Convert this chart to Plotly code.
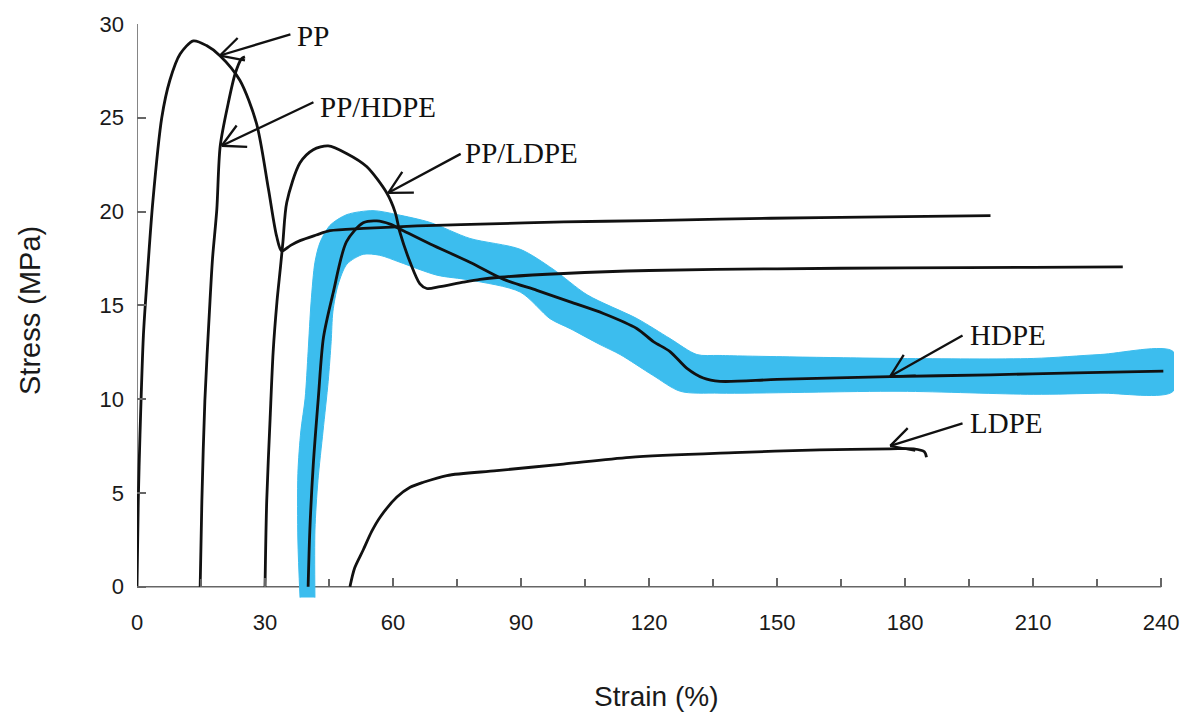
import math
import plotly.graph_objects as go

# ---------------- data (strain %, stress MPa) ----------------
pp_strain = [0, 0.3, 0.7, 1.5, 2.3, 3.7, 5.8, 7.7, 10.1, 13.2, 16.3, 19.5, 24.1, 28.0, 30.8, 32.7, 33.9,
             36.0, 38.2, 42.0, 45.2, 53.0, 60.9, 70.0, 80.4, 100, 120, 136.6, 160, 180, 200]
pp_stress = [0, 4.6, 8.1, 13.4, 16.2, 20.5, 25.0, 27.0, 28.4, 29.1, 28.85, 28.3, 27.0, 24.7, 21.2, 18.7, 17.9,
             18.2, 18.45, 18.75, 18.98, 19.1, 19.19, 19.27, 19.33, 19.45, 19.52, 19.6, 19.68, 19.73, 19.78]

pphdpe_strain = [14.8, 15.2, 15.9, 17.1, 17.7, 18.7, 19.5, 21.4, 23.0, 24.5, 25.3]
pphdpe_stress = [0, 4.6, 9.9, 15.2, 17.5, 20.1, 23.5, 25.8, 27.35, 28.15, 28.25]

ppldpe_strain = [30.0, 30.4, 31.2, 31.9, 32.8, 33.6, 34.2, 35.1, 38.2, 41.3, 44.8, 49.1, 53.8, 58.5,
                 60.5, 61.6, 64.0, 66.3, 67.9, 71.0, 76.5, 80.4, 85, 100, 120, 150, 180, 210, 231]
ppldpe_stress = [0, 4.6, 9.0, 12.5, 15.2, 17.0, 18.4, 20.5, 22.6, 23.3, 23.5, 23.1, 22.4, 21.0,
                 19.96, 18.9, 17.3, 16.15, 15.9, 16.0, 16.24, 16.39, 16.5, 16.7, 16.86, 16.95, 17.0, 17.03, 17.05]

hdpe_strain = [40.1, 40.5, 41.3, 42.5, 43.7, 46.0, 49.1, 53.0, 56.2, 59.3, 62.4, 68.7, 78.0, 85.8, 93.7,
               101.5, 109.3, 117.1, 121.0, 124.9, 128.8, 132.7, 136.6, 150, 176.5, 200, 220, 240.5]
hdpe_stress = [0, 3.0, 6.5, 10.1, 13.3, 15.7, 18.4, 19.4, 19.5, 19.33, 18.98, 18.27, 17.3, 16.4, 15.8,
               15.19, 14.57, 13.77, 13.07, 12.54, 11.66, 11.13, 10.95, 11.05, 11.2, 11.3, 11.4, 11.5]

ldpe_strain = [49.9, 51.0, 53.0, 55.0, 57.0, 60.9, 64.0, 67.1, 72.6, 84.3, 99.9, 115.5, 140, 160, 176.5, 182, 184.5, 185]
ldpe_stress = [0, 1.0, 1.96, 2.95, 3.72, 4.78, 5.3, 5.57, 5.93, 6.19, 6.54, 6.9, 7.15, 7.3, 7.35, 7.35, 7.2, 6.9]

# highlighted band around the HDPE curve (outline, outer edge then inner edge)
band_strain = [38.2, 37.7, 37.7, 38.4, 39.4, 40.1, 40.8, 41.7, 42.9, 45.2, 49.2, 55.3, 60.9, 68.7, 78.0,
               89.8, 97.5, 105.5, 117.2, 124.9, 131.2, 136.6, 178.8, 210.0, 225.7, 242.8,
               242.8, 225.7, 210.0, 178.8, 136.6, 127.3, 120.9, 113.2, 108.5, 101.5, 96.8, 89.8, 78.0,
               70.3, 61.6, 56.9, 53.0, 49.2, 47.1, 45.9, 45.5, 44.8, 43.6, 42.4, 41.7, 41.7]
band_stress = [-0.58, 2.49, 6.03, 8.31, 10.05, 12.54, 15.19, 17.30, 18.36, 19.26, 19.84, 20.05, 19.84, 19.42, 18.57,
               17.99, 16.93, 15.56, 14.29, 13.23, 12.38, 12.33, 12.17, 12.17, 12.38, 12.54,
               10.42, 10.32, 10.26, 10.42, 10.32, 10.42, 11.27, 12.38, 12.91, 13.76, 14.29, 15.71, 16.35,
               16.61, 17.30, 17.67, 17.72, 17.20, 16.08, 14.66, 13.07, 10.95, 8.31, 5.66, 3.02, -0.58]

# labels: (text, label anchor x, label y, arrow tip x, arrow tip y, arrow tail x, arrow tail y)
label_names = ["PP", "PP/HDPE", "PP/LDPE", "HDPE", "LDPE"]
label_x = [37.0, 42.4, 76.4, 194.7, 194.7]
label_y = [29.37, 25.6, 23.1, 13.44, 8.73]
tip_x = [19.45, 19.85, 58.9, 176.5, 176.5]
tip_y = [28.32, 23.51, 21.0, 11.22, 7.51]
tail_x = [36.3, 41.7, 76.2, 193.8, 193.8]
tail_y = [29.47, 25.87, 23.12, 13.44, 8.73]

x_ticks = list(range(0, 241, 30))
y_ticks = list(range(0, 31, 5))

# ---------------- layout geometry ----------------
W, H = 1198, 715
ML, MR, MT, MB = 137, 24, 20, 117
XR = [0, 243]
YR = [-0.6, 30]
sx = (W - ML - MR) / (XR[1] - XR[0])
sy = (H - MT - MB) / (YR[1] - YR[0])

BLUE = "#3cbdee"
INK = "#111111"

fig = go.Figure()

fig.add_trace(go.Scatter(x=band_strain, y=band_stress, mode="lines", fill="toself",
                         fillcolor=BLUE, line=dict(color=BLUE, width=1, shape="spline", smoothing=0.8),
                         hoverinfo="skip", showlegend=False))

for xs, ys, nm in [(pp_strain, pp_stress, "PP"), (pphdpe_strain, pphdpe_stress, "PP/HDPE"),
                   (ppldpe_strain, ppldpe_stress, "PP/LDPE"), (hdpe_strain, hdpe_stress, "HDPE"),
                   (ldpe_strain, ldpe_stress, "LDPE")]:
    fig.add_trace(go.Scatter(x=xs, y=ys, mode="lines", name=nm,
                             line=dict(color=INK, width=2.8, shape="spline", smoothing=0.8),
                             showlegend=False))

annotations = []
for i, nm in enumerate(label_names):
    annotations.append(dict(x=label_x[i], y=label_y[i], xref="x", yref="y", text=nm, showarrow=False,
                            xanchor="left", yanchor="middle",
                            font=dict(family="Liberation Serif, Times New Roman, serif", size=29, color=INK)))
    # arrow shaft
    annotations.append(dict(x=tip_x[i], y=tip_y[i], xref="x", yref="y", ax=tail_x[i], ay=tail_y[i],
                            axref="x", ayref="y", text="", showarrow=True, arrowhead=0,
                            arrowwidth=2.3, arrowcolor=INK, standoff=0, startstandoff=0))
    # open arrow head barbs
    dx = (tail_x[i] - tip_x[i]) * sx
    dy = -(tail_y[i] - tip_y[i]) * sy
    n = math.hypot(dx, dy)
    ux, uy = dx / n, dy / n
    for ang in (28, -28):
        a = math.radians(ang)
        bx = ux * math.cos(a) - uy * math.sin(a)
        by = ux * math.sin(a) + uy * math.cos(a)
        annotations.append(dict(x=tip_x[i], y=tip_y[i], xref="x", yref="y", ax=27 * bx, ay=27 * by,
                                text="", showarrow=True, arrowhead=0, arrowwidth=2.3,
                                arrowcolor=INK, standoff=0, startstandoff=0))

annotations.append(dict(x=0.5, y=-(697 - (H - MB)) / (H - MT - MB), xref="paper", yref="paper",
                        text="Strain (%)", showarrow=False, xanchor="center", yanchor="middle",
                        font=dict(family="Liberation Sans, Arial, sans-serif", size=28, color="#1a1a1a")))
annotations.append(dict(x=-(ML - 30) / (W - ML - MR), y=0.5, xref="paper", yref="paper",
                        text="Stress (MPa)", showarrow=False, textangle=-90, xanchor="center", yanchor="middle",
                        font=dict(family="Liberation Sans, Arial, sans-serif", size=29, color="#1a1a1a")))

AX = "#666666"
shapes = [
    dict(type="line", xref="x", yref="y", x0=0, x1=240, y0=0, y1=0, line=dict(color=AX, width=1.6), layer="below"),
    dict(type="line", xref="x", yref="y", x0=0, x1=0, y0=0, y1=30, line=dict(color=AX, width=1.6), layer="below"),
]

tickfont = dict(family="Liberation Sans, Arial, sans-serif", size=22, color="#1a1a1a")

fig.update_layout(
    width=W, height=H,
    margin=dict(l=ML, r=MR, t=MT, b=MB, pad=0),
    paper_bgcolor="white", plot_bgcolor="white",
    showlegend=False,
    annotations=annotations, shapes=shapes,
    xaxis=dict(range=XR, tickvals=x_ticks, ticktext=[str(v) for v in x_ticks], showgrid=False,
               zeroline=False, showline=False, ticks="inside", ticklen=9, tickwidth=1.5, tickcolor=AX,
               minor=dict(dtick=15, tick0=0, ticks="inside", ticklen=8, tickwidth=1.5, tickcolor=AX, showgrid=False),
               anchor="free", position=(0 - YR[0]) / (YR[1] - YR[0]),
               tickfont=tickfont, ticklabelstandoff=20, fixedrange=True),
    yaxis=dict(range=YR, tickvals=y_ticks, ticktext=[str(v) for v in y_ticks], showgrid=False,
               zeroline=False, showline=False, ticks="inside", ticklen=9, tickwidth=1.5, tickcolor=AX,
               tickfont=tickfont, ticklabelstandoff=12, fixedrange=True),
)

fig.write_html("out.html")
